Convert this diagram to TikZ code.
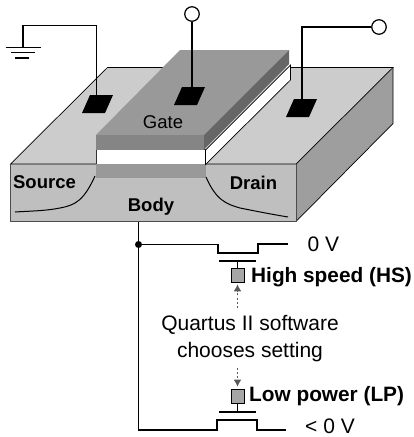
\documentclass[tikz,border=0pt]{standalone}
\usepackage{fontspec}
\setmainfont{Liberation Sans}
\usetikzlibrary{arrows.meta}
\definecolor{topgray}{gray}{0.80}
\definecolor{frontgray}{gray}{0.75}
\definecolor{sidegray}{gray}{0.62}
\definecolor{gatetop}{gray}{0.60}
\definecolor{gatefront}{gray}{0.52}
\definecolor{gateside}{gray}{0.40}
\definecolor{arrowgray}{gray}{0.35}
\tikzset{
  wire/.style={line width=1.2pt,black},
  term/.style={draw,line width=1.2pt,circle,fill=white,inner sep=0pt,minimum size=14.5pt},
  dot/.style={circle,fill=black,inner sep=0pt,minimum size=7pt},
  switchbox/.style={draw=black,line width=0.6pt,fill=gray!70,inner sep=0pt,minimum width=13pt,minimum height=14pt},
  setarrow/.style={line width=1.6pt,arrowgray,dash pattern=on 2pt off 2.2pt,shorten >=2pt,-{Latex[length=7pt,width=8pt,sharp]}},
  lbl/.style={font=\fontsize{18.5pt}{20pt}\selectfont,inner sep=0pt,anchor=base},
  boldlbl/.style={lbl,font=\fontsize{18.5pt}{20pt}\selectfont\bfseries},
  biglbl/.style={lbl,font=\fontsize{21pt}{23pt}\selectfont},
  bigbold/.style={lbl,font=\fontsize{20.8pt}{23pt}\selectfont\bfseries,anchor=base west}
}
\begin{document}
\begin{tikzpicture}[x=1pt,y=-1pt]
\useasboundingbox (0,0) rectangle (413,437);

% silicon block
\fill[topgray] (107.5,67.5)--(393,67.5)--(296,164)--(10.5,164)--cycle;
\fill[sidegray] (296,164)--(393,67.5)--(393,123.5)--(296,221.5)--cycle;
\fill[frontgray] (10.5,164)--(296,164)--(296,221.5)--(10.5,221.5)--cycle;
\draw[line width=0.7pt] (96,164)--(10.5,164)--(107.5,67.5)--(165,67.5);
\draw[line width=0.7pt] (205.5,164)--(296,164)--(393,67.5)--(290,67.5);
\draw[line width=0.7pt] (393,67.5)--(393,123.5)--(296,221.5);
\draw[line width=0.7pt,black!70] (296,164)--(296,221.5)--(10.5,221.5)--(10.5,164);

% channel and gate
\fill[gatetop] (96,164) rectangle (206,178);
\draw[line width=0.7pt,black!80,fill=white] (96,164)--(96,149.5)--(205.5,149.5)--(205.5,164);
\draw[line width=0.7pt,fill=white] (205.5,150)--(290.5,65)--(290.5,80)--(205.5,164.5)--cycle;
\fill[gatetop] (180,50)--(289,50)--(204,135)--(96,135)--cycle;
\fill[gatefront] (96,135) rectangle (204,149.5);
\fill[gateside] (204,135)--(289,50)--(289,64)--(204,149.5)--cycle;

% contacts
\fill (90,95)--(113,95)--(105,113)--(82,113)--cycle;
\fill (182,87)--(205,87)--(197,105)--(174,105)--cycle;
\fill (294,99)--(317,99)--(309,117)--(286,117)--cycle;
\coordinate (srcpad) at (96.5,96);
\coordinate (gatepad) at (192,88);
\coordinate (drainpad) at (302,100);

% terminals
\coordinate (gnd) at (23,47.5);
\node[term] (gateterm) at (192,14) {};
\node[term] (drainterm) at (379,27) {};
\draw[wire] (srcpad)--(96.5,25.5)--(23,25.5)--(gnd);
\draw[wire] (gatepad)--(gateterm);
\draw[wire] (drainpad)|-(drainterm);
\draw[line width=1.4pt] (5.5,47.7)--(41,47.7);
\draw[line width=1.4pt] (11,52.5)--(35,52.5);
\draw[line width=1.4pt] (15,58)--(29,58);

% doping curves
\draw[line width=1pt] (95,176) .. controls (84,200) and (76,205) .. (60,208) .. controls (45,211) and (30,211) .. (15,212);
\draw[line width=1pt] (206,177) .. controls (216,200) and (226,204) .. (240,208) .. controls (255,211) and (270,214) .. (288,217);

\node[lbl] (gate) at (163,128.7) {Gate};
\node[boldlbl] (source) at (44.5,188) {Source};
\node[boldlbl] (drain) at (253.5,189) {Drain};
\node[boldlbl] (body) at (151,211.5) {Body};

% back bias switches
\coordinate (bodypin) at (138.5,222);
\node[dot] (junction) at (138.5,244.5) {};
\coordinate (hsend) at (288,244);
\coordinate (lpend) at (286,430);
\draw[wire] (bodypin)--(junction);
\draw[wire] (junction)--(218,244.5)--(218,253)--(258,253)--(258,244)--(hsend);
\draw[wire] (junction)--(138.5,430)--(217,430)--(217,420)--(257,420)--(257,430)--(lpend);

\node[switchbox] (hsbox) at (237.5,275) {};
\node[switchbox] (lpbox) at (237.5,396) {};
\coordinate (hsgate) at (237.5,261);
\coordinate (lpgate) at (237.5,412);
\draw[line width=1.2pt] (219,261)--(256,261);
\draw[line width=1.2pt] (219,412)--(256,412);
\draw[line width=0.7pt] (hsgate)--(hsbox);
\draw[line width=0.7pt] (lpbox)--(lpgate);

\node[biglbl] (zerov) at (323.5,251.7) {0 V};
\node[biglbl] (negv) at (330,433) {< 0 V};
\node[bigbold] (hs) at (251,282) {High speed (HS)};
\node[bigbold] (lp) at (249,401.7) {Low power (LP)};
\node[biglbl] (quartus) at (250,330) {Quartus II software};
\node[biglbl] (chooses) at (250,357.7) {chooses setting};

\coordinate (qtop) at (237.5,308);
\coordinate (qbot) at (237.5,368);
\draw[setarrow] (qtop)--(hsbox);
\draw[setarrow] (qbot)--(lpbox);
\end{tikzpicture}
\end{document}
